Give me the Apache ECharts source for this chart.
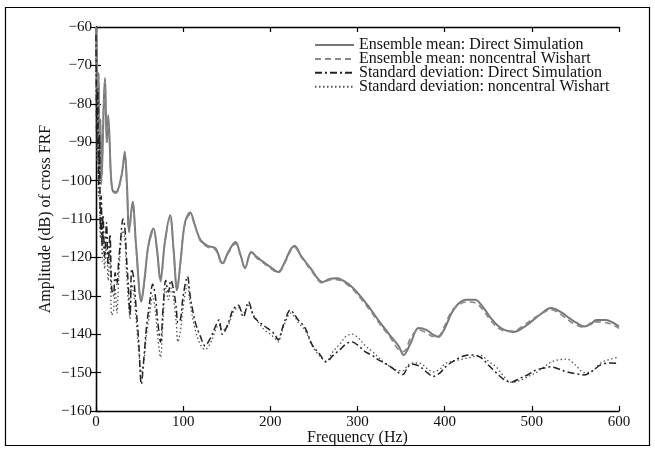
<!DOCTYPE html>
<html><head><meta charset="utf-8">
<script src="https://cdn.jsdelivr.net/npm/echarts@6/dist/echarts.min.js"></script>
<style>html,body{margin:0;padding:0;background:#fff}#c{width:655px;height:452px}</style>
</head><body><div id="c"></div>
<script>
var xTicks = [0, 100, 200, 300, 400, 500, 600];
var yTicks = [-160, -150, -140, -130, -120, -110, -100, -90, -80, -70, -60];
var seriesNames = ['Ensemble mean: Direct Simulation','Ensemble mean: noncentral Wishart','Standard deviation: Direct Simulation','Standard deviation: noncentral Wishart'];

var freqMean = [0,1,2,3,4,5,6,7,8,9,10.3,11.5,12.5,14,15.5,17,19,22,25,28,30.5,33,35.5,38,42,46,52,56,60,66,70,74,79,85,89,93,97,102,108,114,120,128,137,145,152,160,166,171,178,185,191,200,209,217,223,228,235,246,260,268,276,290,303,315,326,338,347,353,361,370,380,387,393,400,408,416,425,435,445,453,462,470,479,490,499,510,522,533,543,551,560,568,574,585,593,600];
var meanDS = [-60,-67,-80,-72,-93,-84,-100,-96,-88,-79,-73.3,-84,-90,-83,-89,-98,-102.5,-103,-102.5,-100,-97,-92.5,-101,-113,-105.5,-117,-131.5,-125,-117,-112.5,-118,-126,-116,-109,-118,-128.5,-121,-111,-108.3,-112,-115.5,-117,-117.6,-121.5,-118.5,-116,-119.5,-122.8,-118.6,-120,-121,-122.5,-123.8,-121,-118,-117,-119.5,-122.8,-126.4,-125.6,-125.4,-127,-130,-133.5,-137,-140.5,-143,-145.4,-142.3,-138.4,-139,-140.2,-140.7,-138.5,-134.5,-132,-131,-131,-133.3,-135.8,-138,-139,-139.4,-138.3,-136.8,-134.8,-133.2,-134.2,-135.8,-137,-138,-137.3,-136.3,-136.3,-137,-138];
var meanNW = [-62,-68,-81,-73,-94,-85,-101,-97,-89,-80,-74,-85,-90.5,-83.5,-89.5,-98.5,-102.5,-103.3,-102.8,-100.3,-97.3,-93,-101.5,-113.5,-106,-117.5,-131,-125.3,-117.3,-113,-118.3,-126.3,-116.3,-109.5,-118.3,-128.3,-121.3,-111.3,-108.8,-112.3,-115.8,-117.3,-118,-121.8,-118.8,-116.4,-119.8,-122.6,-118.9,-120.3,-121.3,-122.8,-124,-121.3,-118.4,-117.4,-119.8,-123.1,-126.7,-125.9,-125.8,-127.4,-130.5,-134,-137.5,-141,-144,-144.5,-141,-138.8,-139.8,-140.6,-140.5,-137.8,-134,-132.4,-131.6,-131.8,-134,-136.5,-138.5,-139.2,-139.2,-137.8,-136.3,-134.8,-133.6,-134.8,-136.5,-137.6,-138.2,-137,-136.8,-137,-137.6,-138.5];

var freqStd = [0,1,2,3,4,5,6,7,8,10,12,14,16,18,20,22,24,26,28,31,33,35,37,39,41,43,46,49,52,55,58,62,65,68,71,74,77,80,83,86,89,92,94,97,100,105,108,114,120,125,132,137,141,145,152,157,163,169,175,181,188,194,200,205,209,213,217,223,228,232,240,248,256,264,272,280,287,294,301,309,317,324,331,338,347,352,358,364,372,380,387,395,401,410,420,430,441,450,459,468,476,487,496,505,514,522,530,540,550,560,570,579,590,600];
var stdDS = [-62,-92,-76,-101,-88,-113,-104,-117,-109,-120,-111,-122,-114,-128,-130,-124,-127,-121,-116,-110,-112,-120,-127,-135,-123,-125,-133,-142,-153,-146,-138,-131,-127,-130,-137,-142,-133,-126,-129,-126,-128.5,-133,-137,-136,-130,-125,-130,-137,-140.7,-143,-140.7,-138,-136.3,-140,-137,-133.7,-132.4,-135.5,-131.6,-135.5,-137,-138,-139,-140,-141.5,-139,-136.3,-133.7,-135,-136.3,-138.4,-142.8,-145,-147.2,-145.5,-144,-142.5,-142,-143,-144.6,-145.5,-146.7,-147.5,-148.5,-150,-150.5,-148.5,-147.8,-148.5,-150,-151,-150,-148.5,-147,-145.8,-145.4,-146,-148,-150,-151.8,-152.5,-151.4,-150.5,-149.3,-148.8,-148.5,-149,-149.8,-150.3,-150.6,-149.5,-148,-147.5,-147.6];
var stdNW = [-65,-95,-80,-104,-92,-115,-110,-121,-113,-123,-116,-126,-118,-135,-134,-128,-134.5,-126,-118,-113,-115,-124,-131,-136,-127,-129,-136,-144,-150,-147,-140,-134,-130,-134,-141,-146,-136,-128,-131,-128,-131,-137,-142,-139,-133,-127,-132,-139,-142.8,-144,-142,-139,-137.5,-139,-137.5,-134.5,-133,-134.5,-132.5,-135,-137.5,-139,-140,-141,-142,-139.5,-137,-134.5,-135.5,-137,-139,-143,-145.5,-147,-144.5,-142.5,-140.5,-140,-141,-143,-144.5,-146,-147.5,-148.5,-149.5,-149.5,-148,-147.5,-147.6,-149,-149.8,-149,-147.6,-147,-146.5,-146,-145.5,-147,-148.5,-151,-152.5,-152,-151,-150,-148.5,-147.3,-146.7,-146.5,-148,-150,-149.5,-147.5,-146.5,-146];

function pairs(xs, ys){ return xs.map(function(x,i){ return [x, ys[i]]; }); }
var FONT = '"Liberation Serif", "Times New Roman", serif';
var minusFmt = function(v){ return String(v).replace('-', '\u2212'); };

var chart = echarts.init(document.getElementById('c'), null, {renderer:'canvas'});
var axisBase = {
  type:'value', axisLine:{show:true, lineStyle:{color:'#000', width:1.3}},
  axisTick:{show:true, inside:true, length:5, lineStyle:{color:'#000', width:1.2}},
  splitLine:{show:false}
};
chart.setOption({
  animation:false,
  backgroundColor:'#fff',
  grid:{left:96, right:36, top:27, bottom:41, containLabel:false, outerBoundsMode:'none'},
  graphic:[{type:'rect', shape:{x:5.5, y:7.5, width:644, height:438}, style:{fill:null, stroke:'#000', lineWidth:1.2}, silent:true}],
  legend:{
    orient:'vertical', left:309, top:32, itemWidth:39, itemHeight:10, itemGap:-2.1,
    itemStyle:{opacity:0},
    data:seriesNames, textStyle:{fontFamily:FONT, fontSize:16, color:'#111'}
  },
  xAxis:[
    Object.assign({}, axisBase, {min:xTicks[0], max:xTicks[xTicks.length-1], interval:xTicks[1]-xTicks[0], position:'bottom',
      name:'Frequency (Hz)', nameLocation:'middle', nameGap:19, nameMoveOverlap:false,
      nameTextStyle:{fontFamily:FONT, fontSize:16, color:'#111'},
      axisLabel:{fontFamily:FONT, fontSize:15, color:'#111', margin:4}}),
    Object.assign({}, axisBase, {min:xTicks[0], max:xTicks[xTicks.length-1], interval:xTicks[1]-xTicks[0], position:'top', axisLabel:{show:false}})
  ],
  yAxis:[
    Object.assign({}, axisBase, {min:yTicks[0], max:yTicks[yTicks.length-1], interval:yTicks[1]-yTicks[0], position:'left',
      name:'Amplitude (dB) of cross FRF', nameLocation:'middle', nameGap:42, nameMoveOverlap:false,
      nameTextStyle:{fontFamily:FONT, fontSize:16, color:'#111'},
      axisLabel:{fontFamily:FONT, fontSize:15, color:'#111', margin:4, formatter:minusFmt}}),
    Object.assign({}, axisBase, {min:yTicks[0], max:yTicks[yTicks.length-1], interval:yTicks[1]-yTicks[0], position:'right', axisLabel:{show:false}})
  ],
  series:[
    {name:seriesNames[0], type:'line', symbol:'none', smooth:0.35, data:pairs(freqMean, meanDS), z:3,
      lineStyle:{color:'#777', width:2, type:'solid'}, itemStyle:{color:'#777'}},
    {name:seriesNames[1], type:'line', symbol:'none', smooth:0.35, data:pairs(freqMean, meanNW), z:4,
      lineStyle:{color:'#888', width:1.6, type:[6,4]}, itemStyle:{color:'#888'}},
    {name:seriesNames[2], type:'line', symbol:'none', smooth:0.35, data:pairs(freqStd, stdDS), z:5,
      lineStyle:{color:'#222', width:1.5, type:[7,3,2,3]}, itemStyle:{color:'#222'}},
    {name:seriesNames[3], type:'line', symbol:'none', smooth:0.35, data:pairs(freqStd, stdNW), z:2,
      lineStyle:{color:'#555', width:1.3, type:[1.5,2.5]}, itemStyle:{color:'#555'}}
  ]
});
</script>
</body></html>
